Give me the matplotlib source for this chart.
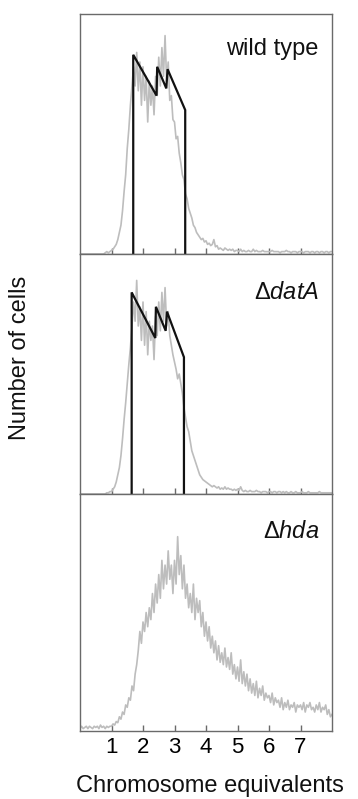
import numpy as np
import matplotlib
matplotlib.use("Agg")
import matplotlib.pyplot as plt

plt.rcParams['font.family'] = ['Liberation Sans', 'DejaVu Sans']
plt.rcParams['mathtext.fontset'] = 'custom'
plt.rcParams['mathtext.rm'] = 'Liberation Sans'
plt.rcParams['mathtext.it'] = 'Liberation Sans:italic'

# ---------------- data ----------------
bin_start = 0.0
bin_width = 0.05

wt_counts = [
    0, 0, 0, 0, 0, 0, 0, 0, 0, 0, 0, 0, 0, 0, 0, 0, 0.005, 0.01, 0.005, 0.01,
    0.015, 0.02, 0.03, 0.04, 0.06, 0.09, 0.12, 0.18, 0.26, 0.33, 0.44, 0.52, 0.62, 0.70, 0.78, 0.70, 0.84, 0.68, 0.80, 0.62,
    0.78, 0.64, 0.74, 0.55, 0.72, 0.62, 0.70, 0.58, 0.74, 0.66, 0.82, 0.70, 0.86, 0.74, 0.91, 0.72, 0.80, 0.64, 0.66, 0.56,
    0.55, 0.48, 0.49, 0.42, 0.38, 0.33, 0.31, 0.25, 0.23, 0.19, 0.17, 0.15, 0.12, 0.11, 0.09, 0.08, 0.07, 0.06, 0.065, 0.05,
    0.055, 0.04, 0.045, 0.035, 0.04, 0.06, 0.03, 0.035, 0.02, 0.025, 0.02, 0.015, 0.025, 0.02, 0.015, 0.02, 0.015, 0.02, 0.01, 0.015,
    0.015, 0.01, 0.02, 0.01, 0.015, 0.01, 0.01, 0.015, 0.01, 0.01, 0.02, 0.01, 0.015, 0.01, 0.01, 0.01, 0.015, 0.01, 0.01, 0.01,
    0.01, 0.01, 0.015, 0.01, 0.01, 0.01, 0.01, 0.005, 0.01, 0.01, 0.01, 0.015, 0.01, 0.01, 0.005, 0.01, 0.01, 0.01, 0.005, 0.01,
    0.01, 0.01, 0.005, 0.01, 0.01, 0.01, 0.005, 0.01, 0.01, 0.005, 0.01, 0.01, 0.005, 0.01, 0.01, 0.005, 0.01, 0.01, 0.005, 0.01,
    0.01,
]

data_counts = [
    0, 0, 0, 0, 0, 0, 0, 0, 0, 0, 0, 0, 0, 0, 0, 0, 0, 0.005, 0.005, 0.01,
    0.01, 0.02, 0.03, 0.05, 0.08, 0.11, 0.16, 0.23, 0.31, 0.38, 0.46, 0.54, 0.61, 0.70, 0.80, 0.72, 0.89, 0.70, 0.78, 0.64,
    0.80, 0.62, 0.76, 0.58, 0.72, 0.64, 0.70, 0.56, 0.74, 0.66, 0.80, 0.68, 0.84, 0.72, 0.86, 0.70, 0.76, 0.66, 0.62, 0.58,
    0.55, 0.52, 0.48, 0.50, 0.46, 0.42, 0.36, 0.32, 0.28, 0.26, 0.22, 0.18, 0.16, 0.14, 0.12, 0.10, 0.08, 0.07, 0.06, 0.055,
    0.05, 0.045, 0.04, 0.035, 0.03, 0.035, 0.03, 0.025, 0.03, 0.02, 0.025, 0.02, 0.03, 0.02, 0.025, 0.02, 0.02, 0.015, 0.02, 0.015,
    0.02, 0.015, 0.03, 0.015, 0.01, 0.015, 0.01, 0.01, 0.015, 0.01, 0.01, 0.01, 0.015, 0.01, 0.01, 0.005, 0.01, 0.01, 0.01, 0.005,
    0.01, 0.01, 0.005, 0.01, 0.01, 0.005, 0.01, 0.01, 0.005, 0.01, 0.005, 0.01, 0.005, 0.005, 0.01, 0.005, 0.005, 0.01, 0.005, 0.005,
    0.005, 0.01, 0.005, 0.005, 0.005, 0.01, 0.005, 0.005, 0.005, 0.005, 0.005, 0.005, 0.01, 0.005, 0.005, 0.005, 0.005, 0.005, 0.005, 0.005,
    0.005,
]

hda_counts = [
    0.01, 0.02, 0.01, 0.015, 0.02, 0.01, 0.02, 0.015, 0.01, 0.02, 0.015, 0.02, 0.01, 0.025, 0.015, 0.02, 0.01, 0.02, 0.015, 0.02,
    0.02, 0.03, 0.025, 0.04, 0.035, 0.06, 0.05, 0.08, 0.07, 0.11, 0.10, 0.14, 0.13, 0.19, 0.17, 0.24, 0.28, 0.34, 0.42, 0.37,
    0.46, 0.42, 0.50, 0.44, 0.52, 0.47, 0.58, 0.50, 0.62, 0.54, 0.66, 0.56, 0.72, 0.60, 0.70, 0.62, 0.76, 0.64, 0.70, 0.58,
    0.72, 0.62, 0.82, 0.66, 0.74, 0.60, 0.70, 0.56, 0.62, 0.52, 0.58, 0.50, 0.62, 0.47, 0.56, 0.50, 0.55, 0.44, 0.50, 0.40,
    0.46, 0.38, 0.44, 0.35, 0.40, 0.33, 0.38, 0.30, 0.36, 0.29, 0.33, 0.28, 0.35, 0.27, 0.31, 0.26, 0.33, 0.24, 0.28, 0.22,
    0.27, 0.21, 0.30, 0.20, 0.25, 0.19, 0.24, 0.17, 0.22, 0.16, 0.20, 0.15, 0.21, 0.14, 0.18, 0.15, 0.19, 0.13, 0.16, 0.14,
    0.15, 0.12, 0.16, 0.11, 0.14, 0.12, 0.13, 0.10, 0.14, 0.09, 0.12, 0.10, 0.13, 0.09, 0.11, 0.10, 0.12, 0.08, 0.11, 0.10,
    0.11, 0.09, 0.12, 0.08, 0.11, 0.10, 0.12, 0.09, 0.10, 0.08, 0.11, 0.09, 0.12, 0.08, 0.10, 0.09, 0.11, 0.07, 0.09, 0.06,
    0.07,
]

# model (black) distributions: vertices (chromosome equivalents, relative number)
wt_model_x = [1.69, 1.69, 2.43, 2.45, 2.74, 2.78, 3.34, 3.34]
wt_model_y = [0.00, 0.83, 0.66, 0.78, 0.69, 0.77, 0.60, 0.00]
data_model_x = [1.64, 1.64, 2.39, 2.41, 2.72, 2.76, 3.30, 3.30]
data_model_y = [0.00, 0.84, 0.65, 0.78, 0.68, 0.76, 0.57, 0.00]

panel_labels = ['wild type', r'Δ$\mathit{datA}$', r'Δ$\mathit{hda}$']
x_ticks = [1, 2, 3, 4, 5, 6, 7]
x_label = 'Chromosome equivalents'
y_label = 'Number of cells'

# ---------------- figure ----------------
fig = plt.figure(figsize=(3.58, 7.99), dpi=100)
W, H = 358.0, 799.0
left, width = 80 / W, 252 / W
panels = [(14, 254), (254, 494), (494, 731)]

counts_list = [wt_counts, data_counts, hda_counts]
models = [(wt_model_x, wt_model_y), (data_model_x, data_model_y), None]

spine_col = '#6a6a6a'
gray = '#bdbdbd'

axes = []
for i, (top, bot) in enumerate(panels):
    ax = fig.add_axes([left, 1 - bot / H, width, (bot - top) / H])
    axes.append(ax)
    c = np.array(counts_list[i])
    x = bin_start + bin_width * np.arange(len(c))
    ax.plot(x, c, color=gray, lw=1.2, zorder=2)
    if models[i] is not None:
        mx, my = models[i]
        ax.plot(mx, my, color='#111111', lw=1.6, zorder=3, solid_joinstyle='miter')
    ax.set_xlim(0, 8)
    ax.set_ylim(0, 1)
    ax.set_yticks([])
    ax.set_xticks(x_ticks)
    ax.tick_params(axis='x', direction='in', length=4, width=1, color=spine_col,
                   labelsize=16, pad=4)
    if i < 2:
        ax.tick_params(axis='x', labelbottom=False)
    for s in ax.spines.values():
        s.set_color(spine_col)
        s.set_linewidth(1.0)
    ax.text(0.948, 0.9 if i == 0 else 0.885, panel_labels[i], transform=ax.transAxes,
            ha='right', va='top', fontsize=17, color='#111111')

fig.text(20 / W, 1 - 358 / H, y_label, rotation=90, ha='center', va='center',
         fontsize=17, color='#111111')
fig.text(210 / W, 1 - 786 / H, x_label, ha='center', va='center',
         fontsize=17, color='#111111')

fig.savefig('out.png', dpi=100)
